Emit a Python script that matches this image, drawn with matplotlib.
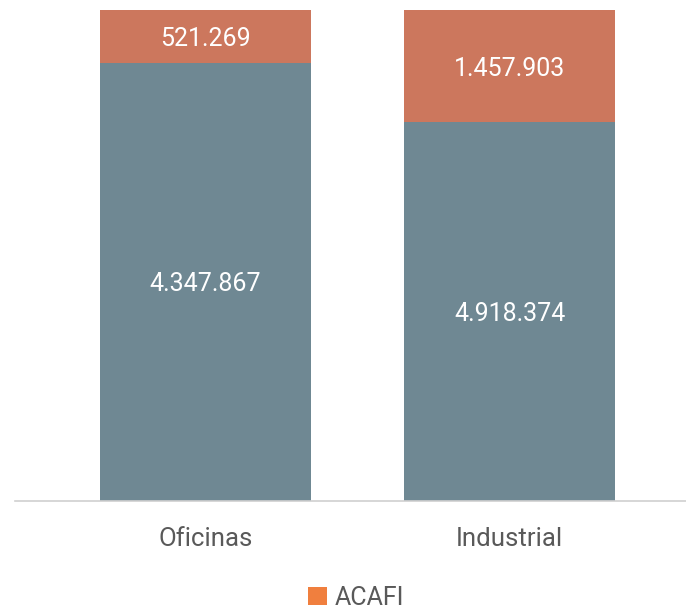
import matplotlib.pyplot as plt
from matplotlib.patches import Patch
import numpy as np

plt.rcParams['font.family'] = ['Roboto', 'DejaVu Sans']

# Values per segment (100% stacked)
categories = ['Oficinas', 'Industrial']
base_values = [4347867, 4918374]
acafi_values = [521269, 1457903]

base = np.array(base_values, dtype=float)
acafi = np.array(acafi_values, dtype=float)
total = base + acafi
base_share = base / total
acafi_share = acafi / total

gray = '#6F8893'
orange = '#CC775D'
legend_orange = '#F07F3E'


def fmt(v):
    return f'{v:,}'.replace(',', '.')


fig = plt.figure(figsize=(6.86, 6.11), dpi=100)
ax = fig.add_axes([15 / 686, 1 - 501 / 611, 1 - 15 / 686, 491 / 611])

x = np.arange(len(categories))
width = 0.694
ax.bar(x, base_share, width, color=gray)
ax.bar(x, acafi_share, width, bottom=base_share, color=orange)

for i in range(len(categories)):
    ax.text(x[i], base_share[i] / 2, fmt(base_values[i]), ha='center',
            va='center_baseline', color='white', fontsize=18)
    ax.text(x[i], base_share[i] + acafi_share[i] / 2, fmt(acafi_values[i]),
            ha='center', va='center_baseline', color='white', fontsize=18)

ax.set_xlim(-0.627, 1.58)
ax.set_ylim(0, 1)
ax.set_yticks([])
ax.set_xticks(x)
ax.set_xticklabels(categories, fontsize=18.5, color='#595959')
ax.tick_params(axis='x', length=0, pad=19)
for side in ['top', 'right', 'left']:
    ax.spines[side].set_visible(False)
ax.spines['bottom'].set_color('#D0D0D0')
ax.spines['bottom'].set_linewidth(1.2)

handles = [Patch(facecolor=legend_orange, edgecolor='none', label='ACAFI')]
fig.legend(handles=handles, loc='center', bbox_to_anchor=(356 / 686, 1 - 598 / 611),
           frameon=False, fontsize=18, handlelength=0.75, handleheight=0.75,
           handletextpad=0.3, labelcolor='#595959')

fig.savefig('out.png', dpi=100)
